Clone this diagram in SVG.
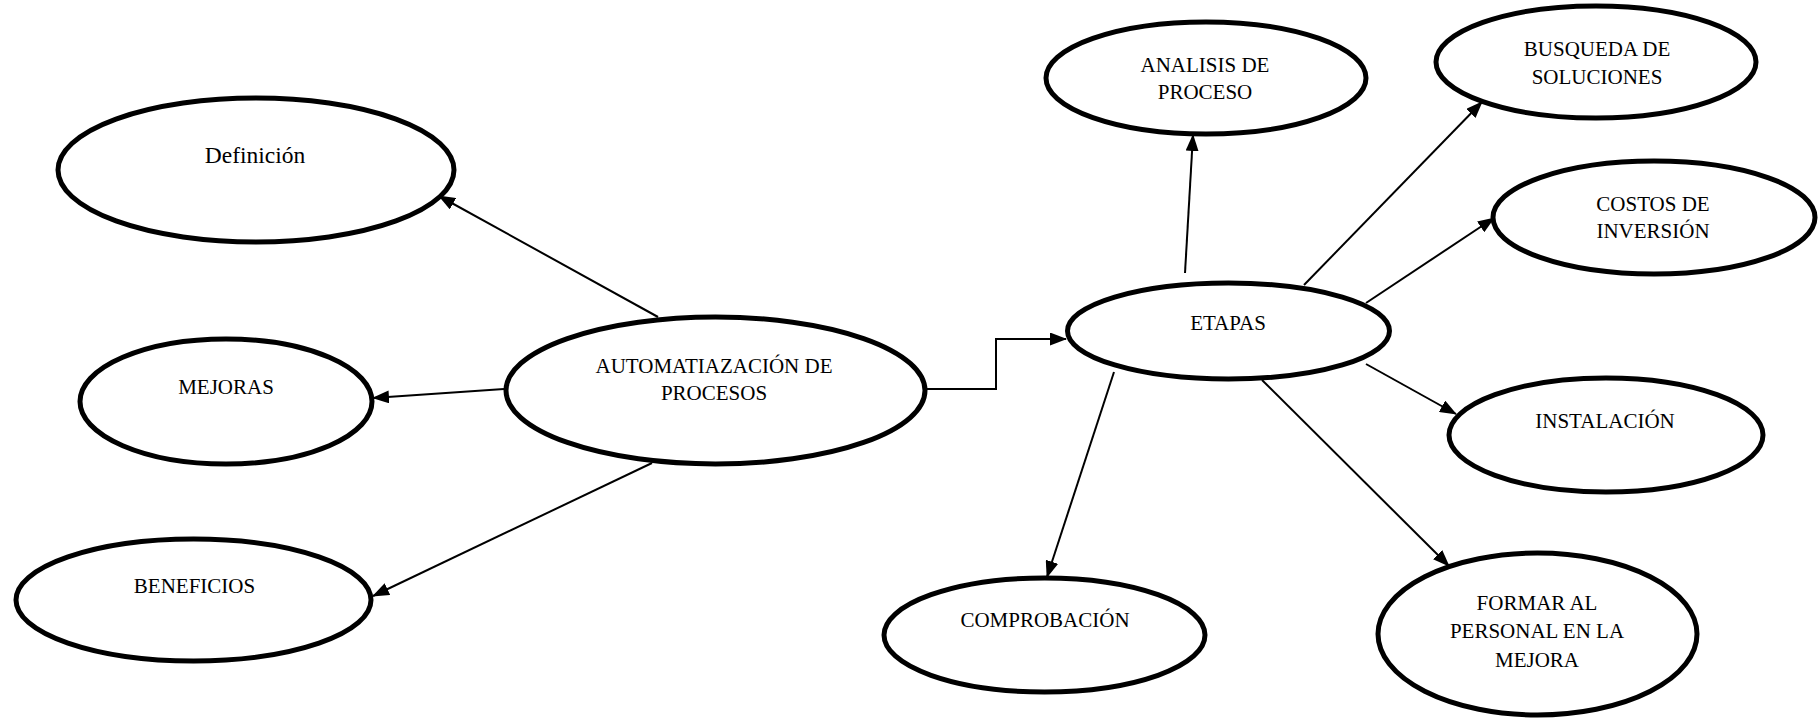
<svg xmlns="http://www.w3.org/2000/svg" width="1819" height="720" viewBox="0 0 1819 720">
<style>
.n ellipse{fill:#fff;stroke:#000;stroke-width:5}
.n text{font-family:"Liberation Serif","Times New Roman",serif;font-size:21px;fill:#000;text-anchor:middle}
.c line,.c polyline{stroke:#000;stroke-width:2;fill:none}
</style>
<defs>
<marker id="arr" markerWidth="17" markerHeight="13" refX="16" refY="6.5" orient="auto" markerUnits="userSpaceOnUse"><path d="M0,0 L17,6.5 L0,13 z" fill="#000"/></marker>
</defs>
<rect width="1819" height="720" fill="#fff"/>
<g class="c" id="connectors">
<line x1="658" y1="317" x2="439" y2="196" marker-end="url(#arr)"/>
<line x1="504" y1="389" x2="373" y2="398" marker-end="url(#arr)"/>
<line x1="652" y1="463" x2="373" y2="596" marker-end="url(#arr)"/>
<polyline points="925,389 996,389 996,339 1066,339" stroke-width="2.5" marker-end="url(#arr)"/>
<line x1="1185" y1="273" x2="1193" y2="135" marker-end="url(#arr)"/>
<line x1="1304" y1="285" x2="1482" y2="102" marker-end="url(#arr)"/>
<line x1="1366" y1="303" x2="1494" y2="218" marker-end="url(#arr)"/>
<line x1="1366" y1="364" x2="1456" y2="414" marker-end="url(#arr)"/>
<line x1="1262" y1="380" x2="1449" y2="566" marker-end="url(#arr)"/>
<line x1="1114" y1="372" x2="1047" y2="577" marker-end="url(#arr)"/>
</g>
<g class="n" id="definicion"><ellipse cx="256" cy="170" rx="198" ry="72"/><text x="255" y="163" style="font-size:23.5px">Definición</text></g>
<g class="n" id="mejoras"><ellipse cx="226" cy="401.5" rx="146" ry="62.5"/><text x="226" y="394">MEJORAS</text></g>
<g class="n" id="beneficios"><ellipse cx="193.5" cy="600" rx="177.5" ry="61"/><text x="194.5" y="593">BENEFICIOS</text></g>
<g class="n" id="automatizacion"><ellipse cx="715.5" cy="390.5" rx="209.5" ry="73.5"/><text x="714" y="372.5">AUTOMATIAZACIÓN DE</text><text x="714" y="400">PROCESOS</text></g>
<g class="n" id="etapas"><ellipse cx="1228.5" cy="331" rx="161" ry="48"/><text x="1228" y="330">ETAPAS</text></g>
<g class="n" id="analisis"><ellipse cx="1206" cy="78" rx="160" ry="56"/><text x="1205" y="71.5">ANALISIS DE</text><text x="1205" y="99">PROCESO</text></g>
<g class="n" id="busqueda"><ellipse cx="1596" cy="62" rx="160" ry="56"/><text x="1597" y="55.5">BUSQUEDA DE</text><text x="1597" y="83.5">SOLUCIONES</text></g>
<g class="n" id="costos"><ellipse cx="1654" cy="217.5" rx="161" ry="56.5"/><text x="1653" y="210.5">COSTOS DE</text><text x="1653" y="238">INVERSIÓN</text></g>
<g class="n" id="instalacion"><ellipse cx="1606" cy="435" rx="157" ry="57"/><text x="1605" y="428">INSTALACIÓN</text></g>
<g class="n" id="formar"><ellipse cx="1537.5" cy="634" rx="159.5" ry="81"/><text x="1537" y="610">FORMAR AL</text><text x="1537" y="638">PERSONAL EN LA</text><text x="1537" y="666.5">MEJORA</text></g>
<g class="n" id="comprobacion"><ellipse cx="1044.5" cy="635" rx="160.5" ry="57"/><text x="1045" y="626.5">COMPROBACIÓN</text></g>
</svg>
